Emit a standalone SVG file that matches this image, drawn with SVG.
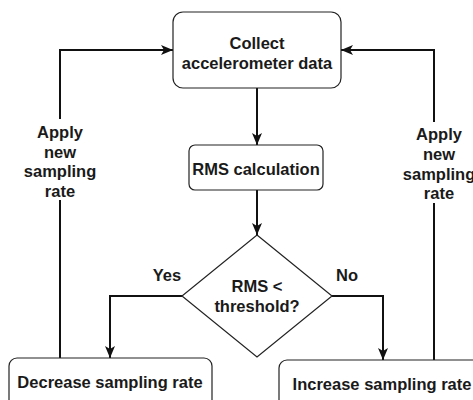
<svg xmlns="http://www.w3.org/2000/svg" width="473" height="400" viewBox="0 0 473 400">
<style>
.box{fill:#fff;stroke:#222;stroke-width:1.2}
.t{font-family:"Liberation Sans",Arial,sans-serif;font-weight:bold;font-size:16.5px;fill:#1a1a1a;text-anchor:middle;dominant-baseline:central}
.e{fill:none;stroke:#111;stroke-width:2}
</style>
<defs>
<marker id="ah" viewBox="0 0 12 10" refX="12" refY="5" markerWidth="12" markerHeight="10" markerUnits="userSpaceOnUse" orient="auto">
<path d="M0,0 L12,5 L0,10 L3,5 Z" fill="#111"/>
</marker>
</defs>
<rect width="473" height="400" fill="#fff"/>
<g id="connectors">
<path class="e" d="M257,88 V145" marker-end="url(#ah)"/>
<path class="e" d="M257,190 V235" marker-end="url(#ah)"/>
<path class="e" d="M182,296 H110 V358" marker-end="url(#ah)"/>
<path class="e" d="M332,296 H383 V360" marker-end="url(#ah)"/>
<path class="e" d="M60,358 V50 H173" marker-end="url(#ah)"/>
<path class="e" d="M434,360 V50 H341" marker-end="url(#ah)"/>
<rect x="20" y="119" width="80" height="81" fill="#fff"/>
<rect x="400" y="122" width="76" height="81" fill="#fff"/>
<text class="t" x="60" y="132">Apply</text>
<text class="t" x="60" y="152">new</text>
<text class="t" x="60" y="171">sampling</text>
<text class="t" x="60" y="191">rate</text>
<text class="t" x="439" y="134">Apply</text>
<text class="t" x="439" y="154">new</text>
<text class="t" x="439" y="174">sampling</text>
<text class="t" x="439" y="193">rate</text>
<text class="t" x="167" y="275">Yes</text>
<text class="t" x="347" y="275">No</text>
</g>
<g id="collect">
<rect class="box" x="173" y="12" width="168" height="76" rx="10"/>
<text class="t" x="257" y="43">Collect</text>
<text class="t" x="257" y="63">accelerometer data</text>
</g>
<g id="rms">
<rect class="box" x="189" y="145" width="134" height="45" rx="6"/>
<text class="t" x="256" y="169">RMS calculation</text>
</g>
<g id="decision">
<path class="box" d="M257,235 L332,296 L257,357 L182,296 Z"/>
<text class="t" x="257" y="286">RMS &lt;</text>
<text class="t" x="257" y="306">threshold?</text>
</g>
<g id="decrease">
<rect class="box" x="9" y="358" width="203" height="60" rx="8"/>
<text class="t" x="110" y="382">Decrease sampling rate</text>
</g>
<g id="increase">
<rect class="box" x="279" y="360" width="206" height="60" rx="8"/>
<text class="t" x="382" y="384">Increase sampling rate</text>
</g>
</svg>
